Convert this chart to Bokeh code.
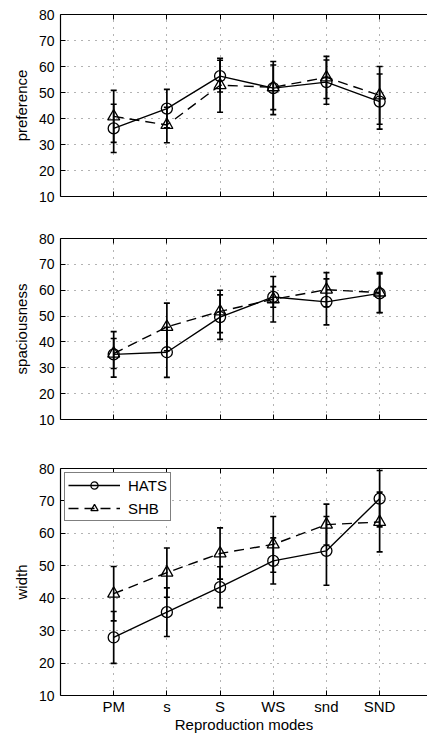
from bokeh.plotting import figure
from bokeh.layouts import column
from bokeh.models import (ColumnDataSource, Whisker, TeeHead, LinearAxis, FixedTicker,
                          Range1d, Legend, LegendItem)
from bokeh.embed import file_html
from bokeh.resources import INLINE

# ---------------- data ----------------
modes = ["PM", "s", "S", "WS", "snd", "SND"]
y_ticks = [10, 20, 30, 40, 50, 60, 70, 80]

hats_pref = [36.2, 43.8, 56.3, 51.7, 54.0, 46.5]
hats_pref_err = [9.3, 7.4, 6.1, 10.2, 8.5, 10.6]
shb_pref = [40.8, 37.5, 52.8, 52.0, 55.8, 48.9]
shb_pref_err = [10.0, 6.8, 10.4, 8.6, 8.1, 11.1]

hats_spa = [35.2, 36.0, 49.6, 57.4, 55.5, 58.8]
hats_spa_err = [8.8, 9.7, 8.6, 4.0, 8.9, 7.5]
shb_spa = [35.5, 45.8, 51.8, 56.5, 60.2, 59.1]
shb_spa_err = [5.8, 9.2, 8.2, 8.8, 6.6, 7.7]

hats_wid = [27.9, 35.7, 43.4, 51.5, 54.6, 70.7]
hats_wid_err = [8.0, 7.5, 6.3, 7.1, 10.6, 8.7]
shb_wid = [41.4, 47.9, 53.8, 56.6, 62.7, 63.5]
shb_wid_err = [8.4, 7.6, 7.9, 8.6, 6.3, 9.2]

FONT = "Liberation Sans"


def make_panel(ylabel, hats, hats_err, shb, shb_err, height, top, bottom,
               show_x=False, legend=False):
    x = list(range(1, len(modes) + 1))
    p = figure(width=427, height=height, x_range=Range1d(0, 6.9), y_range=Range1d(10, 80),
               output_backend="svg", toolbar_location=None,
               min_border_left=60, min_border_right=0, min_border_top=top,
               min_border_bottom=bottom, outline_line_color=None,
               background_fill_color="white", border_fill_color="white")

    def whisk(vals, errs):
        src = ColumnDataSource(dict(x=x, upper=[v + e for v, e in zip(vals, errs)],
                                    lower=[v - e for v, e in zip(vals, errs)]))
        w = Whisker(base="x", upper="upper", lower="lower", source=src,
                    line_color="black", line_width=1.7,
                    upper_head=TeeHead(size=6, line_color="black", line_width=1.6),
                    lower_head=TeeHead(size=6, line_color="black", line_width=1.6))
        p.add_layout(w)

    whisk(hats, hats_err)
    whisk(shb, shb_err)

    lh = p.line(x, hats, line_color="black", line_width=1.4)
    sh = p.scatter(x, hats, marker="circle", size=11, fill_color=None,
                   line_color="black", line_width=1.3)
    ls = p.line(x, shb, line_color="black", line_width=1.4, line_dash="10 6")
    ss = p.scatter(x, shb, marker="triangle", size=12, fill_color=None,
                   line_color="black", line_width=1.3)

    # grids
    p.xgrid.ticker = FixedTicker(ticks=x)
    p.ygrid.ticker = FixedTicker(ticks=y_ticks)
    for g in (p.xgrid[0], p.ygrid[0]):
        g.grid_line_color = "#333333"
        g.grid_line_alpha = 0.75
        g.grid_line_dash = "1 6"
        g.grid_line_width = 1

    # y axis
    ya = p.yaxis[0]
    ya.ticker = FixedTicker(ticks=y_ticks)
    ya.major_tick_in = 5
    ya.major_tick_out = 0
    ya.minor_tick_in = 0
    ya.minor_tick_out = 0
    ya.major_label_text_font = FONT
    ya.major_label_text_font_size = "14px"
    ya.major_label_text_color = "black"
    ya.major_label_standoff = 6
    ya.axis_label = ylabel
    ya.axis_label_text_font = FONT
    ya.axis_label_text_font_size = "15px"
    ya.axis_label_text_font_style = "normal"
    ya.axis_label_text_color = "black"
    ya.axis_label_standoff = 6
    ya.axis_line_color = "black"
    ya.axis_line_width = 1.2
    ya.major_tick_line_width = 1

    # x axis
    xa = p.xaxis[0]
    xa.axis_line_color = "black"
    xa.axis_line_width = 1.2
    xa.major_tick_out = 0
    xa.minor_tick_out = 0
    if show_x:
        xa.ticker = FixedTicker(ticks=x)
        xa.major_label_overrides = {i: m for i, m in zip(x, modes)}
        xa.major_tick_in = 5
        xa.minor_tick_in = 0
        xa.major_label_text_font = FONT
        xa.major_label_text_color = "black"
        xa.major_label_text_font_size = "15px"
        xa.major_label_standoff = 2
        xa.axis_label = "Reproduction modes"
        xa.axis_label_text_font = FONT
        xa.axis_label_text_font_size = "15px"
        xa.axis_label_text_font_style = "normal"
        xa.axis_label_text_color = "black"
        xa.axis_label_standoff = -2
    else:
        # ticks only (as minor ticks), no labels
        xa.ticker = FixedTicker(ticks=[], minor_ticks=x)
        xa.minor_tick_in = 5
        xa.major_tick_in = 0

    # top box line with inward ticks, no labels
    ta = LinearAxis(ticker=FixedTicker(ticks=[], minor_ticks=x),
                    major_tick_in=0, major_tick_out=0,
                    minor_tick_in=5, minor_tick_out=0, axis_line_color="black",
                    axis_line_width=1.2)
    p.add_layout(ta, "above")

    if legend:
        lg = Legend(items=[LegendItem(label="HATS", renderers=[lh, sh]),
                           LegendItem(label="SHB", renderers=[ls, ss])],
                    location="top_left", margin=4, padding=3, spacing=5,
                    label_text_font=FONT, label_text_font_size="15px",
                    label_text_color="black",
                    glyph_width=52, glyph_height=18, label_height=18, label_standoff=8,
                    border_line_color="black", border_line_width=1,
                    background_fill_color="white", background_fill_alpha=1)
        p.add_layout(lg)
    return p


p1 = make_panel("preference", hats_pref, hats_pref_err, shb_pref, shb_pref_err,
                height=217, top=14, bottom=21)
p2 = make_panel("spaciousness", hats_spa, hats_spa_err, shb_spa, shb_spa_err,
                height=227, top=21, bottom=25)
p3 = make_panel("width", hats_wid, hats_wid_err, shb_wid, shb_wid_err,
                height=291, top=24, bottom=39, show_x=True, legend=True)

layout = column(p1, p2, p3)
open("out.html", "w").write(file_html(layout, INLINE))
